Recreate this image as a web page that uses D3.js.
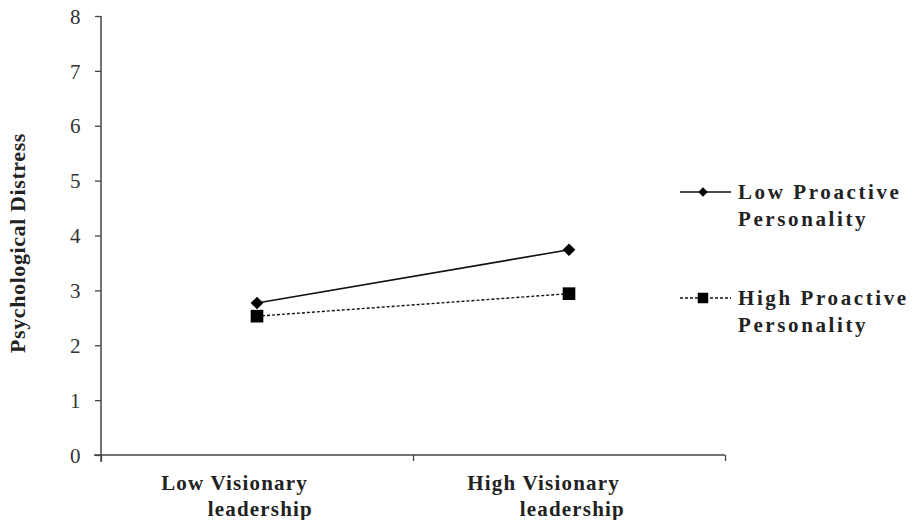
<!DOCTYPE html>
<html>
<head>
<meta charset="utf-8">
<script src="https://cdn.jsdelivr.net/npm/d3@7"></script>
<style>
  html, body { margin: 0; padding: 0; background: #fff; }
  svg { display: block; }
</style>
</head>
<body>
<svg id="chart" width="915" height="520"></svg>
<script>
// ---- data ----
const categories = ["Low Visionary leadership", "High Visionary leadership"];
const categoryLines = [["Low Visionary", "leadership"], ["High Visionary", "leadership"]];
const seriesNames = ["Low Proactive Personality", "High Proactive Personality"];
const seriesLegendLines = [["Low Proactive", "Personality"], ["High Proactive", "Personality"]];
const lowProactive = [2.77, 3.74];
const highProactive = [2.53, 2.94];
const yTicks = [0, 1, 2, 3, 4, 5, 6, 7, 8];
const yTitle = "Psychological Distress";

// ---- layout ----
const svg = d3.select("#chart");
const mLeft = 101, mRight = 725, mTop = 16, mBottom = 455;
const ink = "#222";
const serif = "Liberation Serif";

const x = d3.scaleBand().domain(categories).range([mLeft, mRight]).padding(0);
const y = d3.scaleLinear().domain([0, 8]).range([mBottom, mTop]);
const centerX = c => x(c) + x.bandwidth() / 2;

// Y axis
const yAxis = svg.append("g").attr("transform", `translate(${mLeft},0)`)
  .call(d3.axisLeft(y).tickValues(yTicks).tickSize(6).tickPadding(14).tickFormat(d3.format("d")));
yAxis.select(".domain").attr("d", `M0,${mTop}V${mBottom + 7}`).attr("stroke", "#444").attr("stroke-width", 1.5);
yAxis.selectAll(".tick line").attr("stroke", "#444").attr("stroke-width", 1.3);
yAxis.selectAll(".tick text").style("font-family", serif).style("font-size", "21px")
  .attr("fill", "#333").attr("dy", "0.34em").attr("letter-spacing", 0.5);

// X axis (boundary ticks)
const xb = d3.scaleLinear().domain([0, categories.length]).range([mLeft, mRight]);
const xAxis = svg.append("g").attr("transform", `translate(0,${mBottom})`)
  .call(d3.axisBottom(xb).ticks(categories.length).tickSize(6).tickFormat(""));
xAxis.select(".domain").attr("d", `M${mLeft - 7},0H${mRight}`).attr("stroke", "#444").attr("stroke-width", 1.5);
xAxis.selectAll(".tick line").attr("stroke", "#444").attr("stroke-width", 1.3);

// Category labels
categories.forEach((c, i) => {
  const px = centerX(c);
  const t = svg.append("text").style("font-family", serif).style("font-size", "21px")
    .style("font-weight", "bold").attr("fill", ink).attr("text-anchor", "end")
    .attr("letter-spacing", 1.2);
  t.append("tspan").attr("x", px + 51).attr("y", 490).text(categoryLines[i][0]);
  t.append("tspan").attr("x", px + 56).attr("y", 516).text(categoryLines[i][1]);
});

// Y title
svg.append("text").attr("transform", `translate(25,243) rotate(-90)`)
  .attr("text-anchor", "middle").style("font-family", serif).style("font-size", "22px")
  .style("font-weight", "bold").attr("fill", ink).attr("letter-spacing", 0.6).text(yTitle);

// Series
const line = d3.line().x((d, i) => centerX(categories[i])).y(d => y(d));
const diamond = d3.symbol().type(d3.symbolSquare).size(80);
const square = d3.symbol().type(d3.symbolSquare).size(160);

svg.append("path").datum(lowProactive).attr("d", line)
  .attr("fill", "none").attr("stroke", "#111").attr("stroke-width", 1.6);
svg.append("path").datum(highProactive).attr("d", line)
  .attr("fill", "none").attr("stroke", "#111").attr("stroke-width", 1.4).attr("stroke-dasharray", "3,2");

svg.selectAll(".pLow").data(lowProactive).join("path").attr("class", "pLow")
  .attr("transform", (d, i) => `translate(${centerX(categories[i])},${y(d)}) rotate(45)`)
  .attr("d", diamond).attr("fill", "#000");
svg.selectAll(".pHigh").data(highProactive).join("path").attr("class", "pHigh")
  .attr("transform", (d, i) => `translate(${centerX(categories[i])},${y(d)})`)
  .attr("d", square).attr("fill", "#000");

// Legend
const legendY = [192, 298];
const legendDash = [null, "3,2"];
seriesNames.forEach((s, i) => {
  const g = svg.append("g");
  g.append("line").attr("x1", 680).attr("x2", 731).attr("y1", legendY[i]).attr("y2", legendY[i])
    .attr("stroke", "#111").attr("stroke-width", 1.4).attr("stroke-dasharray", legendDash[i]);
  g.append("path").attr("transform", `translate(703,${legendY[i]})` + (i === 0 ? " rotate(45)" : ""))
    .attr("d", i === 0 ? d3.symbol().type(d3.symbolSquare).size(45)() : d3.symbol().type(d3.symbolSquare).size(110)())
    .attr("fill", "#000");
  const t = g.append("text").style("font-family", serif).style("font-size", "21px")
    .style("font-weight", "bold").attr("fill", ink).attr("letter-spacing", 2.6);
  t.append("tspan").attr("x", 738).attr("y", legendY[i] + 7).text(seriesLegendLines[i][0]);
  t.append("tspan").attr("x", 738).attr("y", legendY[i] + 34).text(seriesLegendLines[i][1]);
});
</script>
</body>
</html>
